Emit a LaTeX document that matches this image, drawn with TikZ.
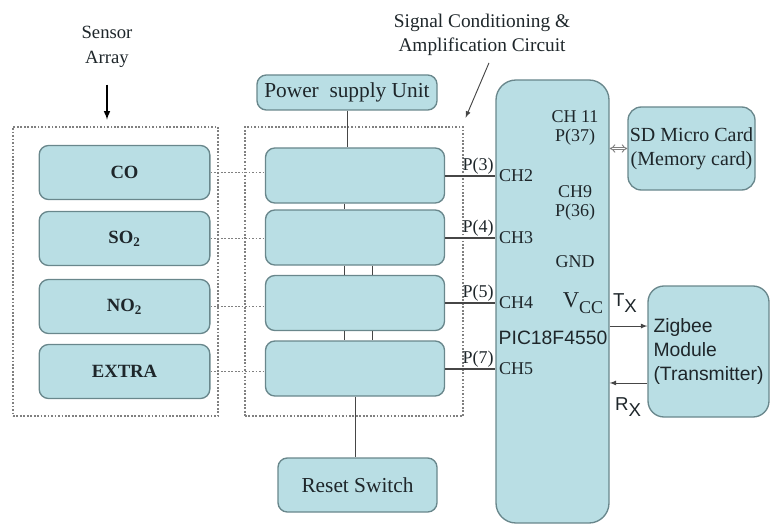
\documentclass[tikz,border=0pt]{standalone}
\usepackage{fontspec}
\setmainfont{Liberation Serif}
\setsansfont{Liberation Sans}
\usetikzlibrary{arrows, arrows.meta, positioning}
\definecolor{blockfill}{RGB}{185,222,228}
\definecolor{blockline}{RGB}{105,135,140}
\definecolor{inktext}{RGB}{30,38,42}
\definecolor{wiregray}{RGB}{70,70,70}

\begin{document}
\begin{tikzpicture}[x=0.75pt, y=-0.75pt,
    block/.style={draw=blockline, fill=blockfill, line width=1pt, rounded corners=7pt, text=inktext},
    sensorbox/.style={block, minimum width=128pt, minimum height=40.5pt, font=\fontsize{14}{16}\selectfont\bfseries},
    condbox/.style={block, minimum width=134.25pt, minimum height=41.25pt},
    groupbox/.style={draw=gray, line width=0.9pt, dash pattern=on 1.3pt off 1.3pt, minimum height=216.75pt},
    dashlink/.style={draw=gray, line width=0.9pt, dash pattern=on 1.3pt off 1.3pt},
    wire/.style={draw=wiregray, line width=1.5pt},
    thinwire/.style={draw=wiregray, line width=0.7pt},
    pinlabel/.style={font=\fontsize{13.5}{14.5}\selectfont, text=inktext, inner sep=1pt},
    sanslabel/.style={font=\sffamily\fontsize{14}{15}\selectfont, text=inktext, inner sep=1pt}]
    \useasboundingbox (0,0) rectangle (770,524);

    \node[groupbox, minimum width=153.75pt] (sensorgroup) at (115.5,271.5) {};
    \node[groupbox, minimum width=163.5pt] (condgroup) at (354,271.5) {};

    \node[font=\fontsize{14}{19}\selectfont, align=center, text=inktext] (sensor) at (107,47) {Sensor\\Array};
    \node[font=\fontsize{14.5}{18}\selectfont, align=center, text=inktext] (signal) at (482,35) {Signal Conditioning \&\\Amplification Circuit};

    \node[sensorbox] (co) at (124.5,172.5) {CO};
    \node[sensorbox] (so) at (124.5,238.5) {SO\textsubscript{2}};
    \node[sensorbox] (no) at (124.5,306.5) {NO\textsubscript{2}};
    \node[sensorbox] (ex) at (124.5,371.5) {EXTRA};

    \node[condbox] (c1) at (355,175.5) {};
    \node[condbox] (c2) at (355,237.5) {};
    \node[condbox] (c3) at (355,303) {};
    \node[condbox] (c4) at (355,368.5) {};

    \node[block, minimum width=135pt, minimum height=26.25pt, inner sep=1pt, font=\fontsize{16}{16}\selectfont] (power) at (347,92.5) {Power\ \ supply Unit};
    \node[block, minimum width=119.25pt, minimum height=40.5pt, font=\fontsize{16}{16}\selectfont] (reset) at (357.5,485) {Reset Switch};

    \node[block, rounded corners=15pt, minimum width=84.75pt, minimum height=332.25pt] (pic) at (552.5,301.5) {};
    \node[block, rounded corners=10pt, minimum width=95.25pt, minimum height=62.25pt, inner sep=1pt, align=center, font=\fontsize{15}{18}\selectfont] (sd) at (691.5,148.5) {SD Micro Card\\(Memory card)};
    \node[block, rounded corners=12pt, minimum width=90.75pt, minimum height=98.25pt, inner sep=2pt, align=left, font=\sffamily\fontsize{14.5}{18}\selectfont] (zig) at (708.5,351.5) {Zigbee\\Module\\(Transmitter)};

    \draw[-latex, line width=1.2pt, black, shorten <=9pt, shorten >=5pt] (sensor.south) -- (sensor.south |- sensorgroup.north);
    \draw[-latex, thinwire, shorten <=2pt] ([xshift=6pt]signal.south) -- ([shift={(1.5pt,6.5pt)}]condgroup.north east);

    \foreach \s/\c in {co/c1, so/c2, no/c3, ex/c4}
        \draw[dashlink] (\s.east) -- (\s.east -| \c.west);

    \draw[thinwire] (power.south) -- (power.south |- c1.north);
    \draw[thinwire] ([xshift=-8.25pt]c1.south) -- ([xshift=-8.25pt]c2.north);
    \foreach \a/\b in {c2/c3, c3/c4}
        \foreach \dx in {-8.25pt, 12.75pt}
            \draw[thinwire] ([xshift=\dx]\a.south) -- ([xshift=\dx]\b.north);
    \draw[thinwire] (c4.south) -- (c4.south |- reset.north);

    \foreach \c/\p/\ch in {c1/3/CH2, c2/4/CH3, c3/5/CH4, c4/7/CH5}
        \draw[wire] (\c.east) -- (\c.east -| pic.west)
            node[pinlabel, above left, inner sep=0.5pt] {P(\p)}
            node[pinlabel, right, inner sep=2pt] {\ch};

    \node[pinlabel, align=center] (ch11) at (575,128) {CH 11\\P(37)};
    \node[pinlabel, align=center] (ch9) at (575,203) {CH9\\P(36)};
    \node[pinlabel] (gnd) at (575,262) {GND};
    \node[pinlabel] (vcc) at (583,303) {{\fontsize{17}{17}\selectfont V}\raisebox{-4pt}{CC}};
    \node[sanslabel, font=\sffamily\fontsize{14.5}{15}\selectfont] (picname) at (553,338) {PIC18F4550};

    \draw[draw=gray, line width=0.7pt, double=white, double distance=1.4pt, {Implies}-{Implies}] (sd.west -| pic.east) -- (sd.west);

    \path ([yshift=19.1pt]zig.west) coordinate (txin);
    \path ([yshift=-23.6pt]zig.west) coordinate (rxout);
    \draw[thinwire, -latex] (txin -| pic.east) -- (txin);
    \draw[thinwire, -latex] (rxout) -- (rxout -| pic.east);
    \node[sanslabel] (tx) at (625,303) {T\raisebox{-4pt}{X}};
    \node[sanslabel] (rx) at (628,407) {R\raisebox{-5pt}{X}};
\end{tikzpicture}
\end{document}
